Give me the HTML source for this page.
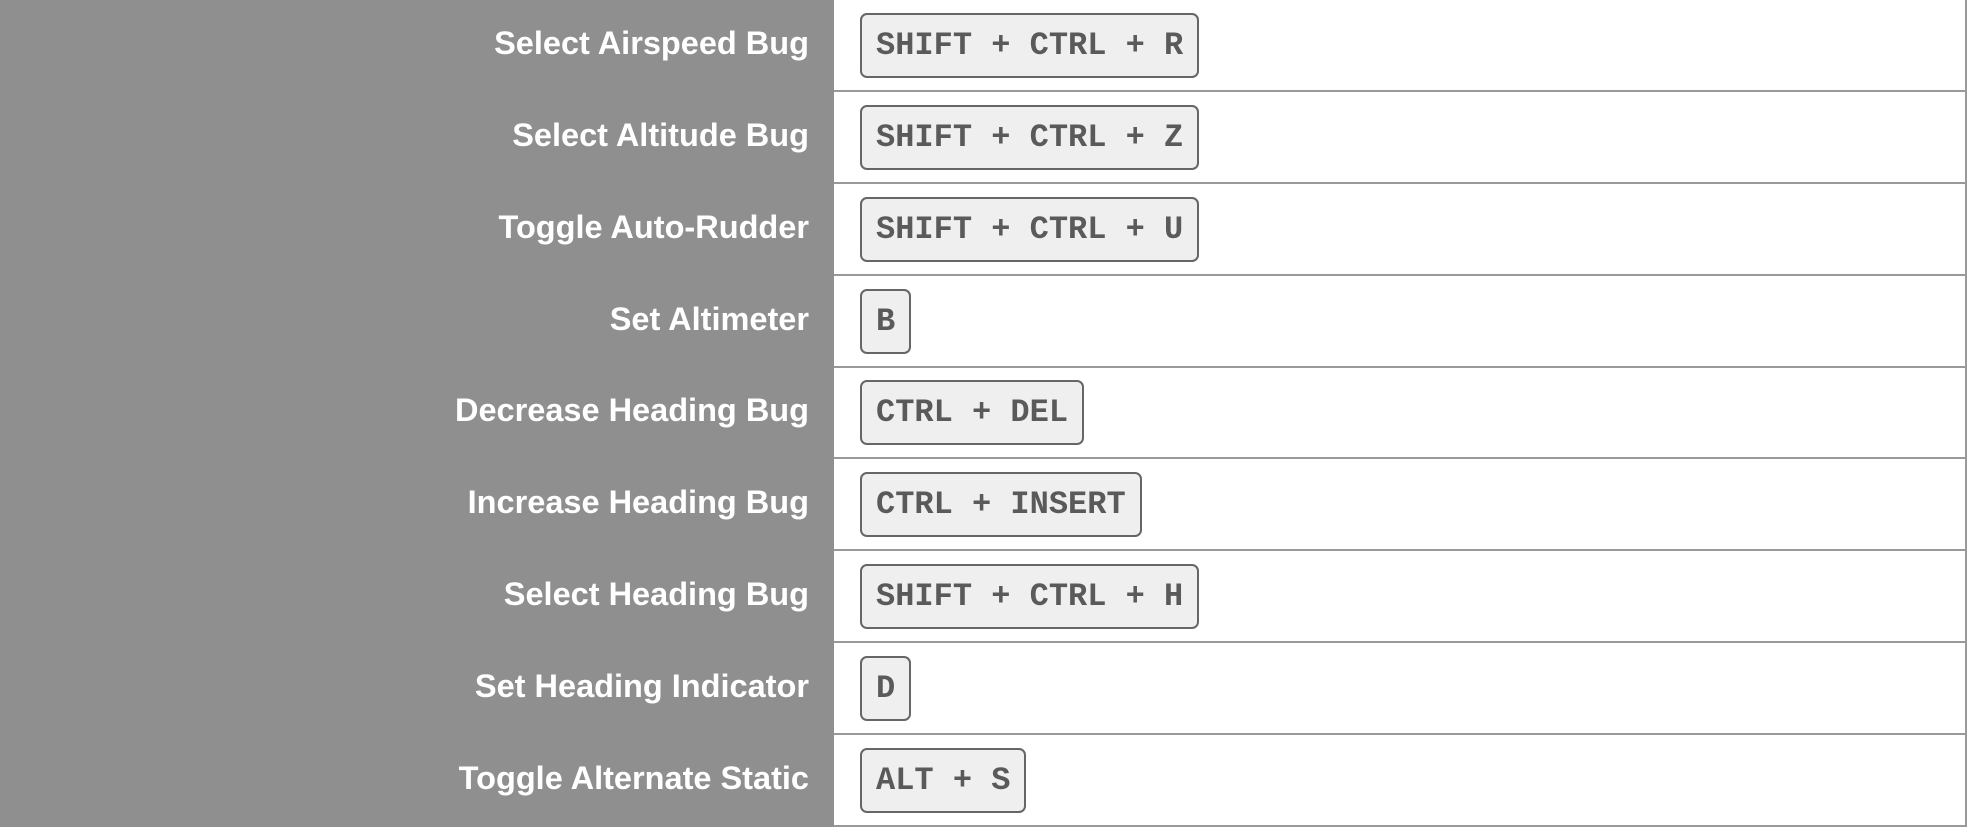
<!DOCTYPE html>
<html><head><style>
body{margin:0;width:1967px;height:827px;background:#fff;position:relative;overflow:hidden;font-family:"Liberation Sans",Arial,sans-serif}
.g{position:absolute;left:0;top:0;width:834px;height:827px;background:#8f8f8f}
.r{position:absolute;left:0;width:1967px;height:92px}
.l{position:absolute;right:1158px;top:0;height:86px;line-height:86px;color:#fff;font-weight:bold;font-size:32.5px;white-space:nowrap}
.k{position:absolute;left:860px;top:13px;height:61px;line-height:61px;padding:0 14px;border:2px solid #666;border-radius:7px;background:#efefef;color:#5a5a5a;font-family:"Liberation Mono","Courier New",monospace;font-weight:bold;font-size:32px;white-space:pre}
.ln{position:absolute;left:834px;right:0;bottom:0;height:2px;background:#999}
.rb{position:absolute;right:0;top:0;width:2px;height:827px;background:#999}
</style></head><body>
<div class="g"></div>
<div class="r" style="top:0"><div class="l">Select Airspeed Bug</div><div class="k">SHIFT + CTRL + R</div><div class="ln"></div></div>
<div class="r" style="top:92px"><div class="l">Select Altitude Bug</div><div class="k">SHIFT + CTRL + Z</div><div class="ln"></div></div>
<div class="r" style="top:184px"><div class="l">Toggle Auto-Rudder</div><div class="k">SHIFT + CTRL + U</div><div class="ln"></div></div>
<div class="r" style="top:276px"><div class="l">Set Altimeter</div><div class="k">B</div><div class="ln"></div></div>
<div class="r" style="top:367px"><div class="l">Decrease Heading Bug</div><div class="k">CTRL + DEL</div><div class="ln"></div></div>
<div class="r" style="top:459px"><div class="l">Increase Heading Bug</div><div class="k">CTRL + INSERT</div><div class="ln"></div></div>
<div class="r" style="top:551px"><div class="l">Select Heading Bug</div><div class="k">SHIFT + CTRL + H</div><div class="ln"></div></div>
<div class="r" style="top:643px"><div class="l">Set Heading Indicator</div><div class="k">D</div><div class="ln"></div></div>
<div class="r" style="top:735px"><div class="l">Toggle Alternate Static</div><div class="k">ALT + S</div><div class="ln"></div></div>
<div class="rb"></div>
</body></html>
